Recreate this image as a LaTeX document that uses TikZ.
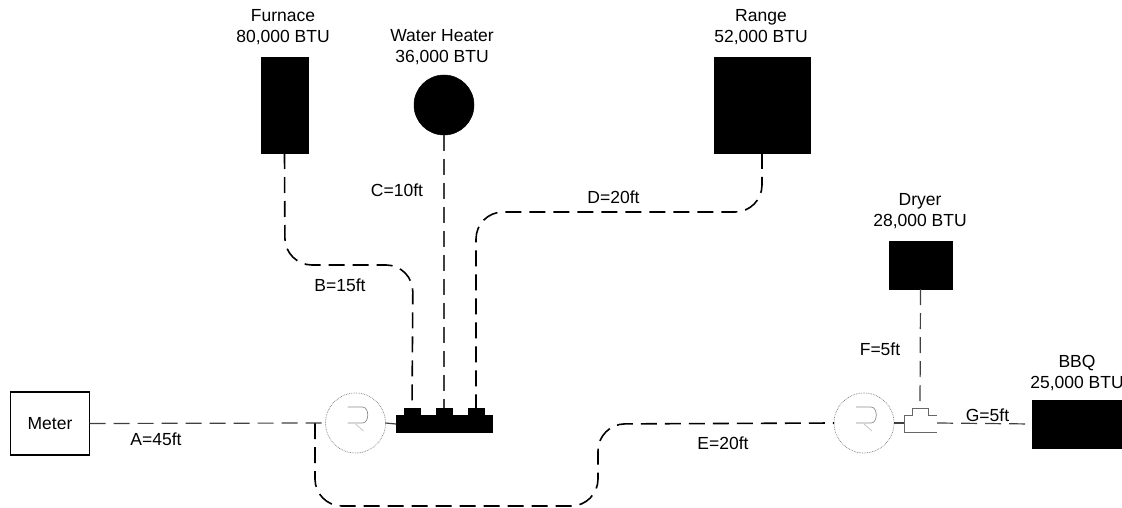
\documentclass[tikz,border=0pt]{standalone}
\usepackage{fontspec}
\setmainfont{Liberation Sans}
\usetikzlibrary{calc}
\tikzset{
  x=1pt,y=-1pt,
  lbl/.style={inner sep=0pt,outer sep=0pt,align=center,font=\fontsize{17.5}{21}\selectfont,text=black},
  solidbox/.style={fill=black,draw=black,inner sep=0pt,outer sep=0pt,line width=0.5pt},
  pipe/.style={line width=1.6pt,dash pattern=on 16pt off 8pt,rounded corners=27pt,black},
  thinpipe/.style={line width=1.2pt,dash pattern=on 16pt off 8pt,black!75},
  regcirc/.style={circle,draw=black!55,densely dotted,line width=0.7pt,minimum size=60pt,inner sep=0pt,outer sep=0pt},
  rglyph/.style={draw=black!45,line width=0.7pt},
  teeline/.style={draw=black!60,line width=0.9pt},
}
\begin{document}
\begin{tikzpicture}
\clip (0,0) rectangle (1122,508);
% equipment
\node[solidbox,minimum width=47pt,minimum height=96pt] (furnace) at (284.5,105) {};
\node[solidbox,circle,minimum size=60pt] (heater) at (444,105) {};
\node[solidbox,minimum width=96pt,minimum height=96pt] (range) at (762,105) {};
\node[solidbox,minimum width=63pt,minimum height=48pt] (dryer) at (920.5,265) {};
\node[solidbox,minimum width=96pt,minimum height=48pt] (bbq) at (1080,424) {};
\node[draw=black,line width=1.2pt,minimum width=79pt,minimum height=63pt,inner sep=0pt,outer sep=0pt,font=\fontsize{17.5}{21}\selectfont] (meter) at (50,423.5) {Meter};
% manifold
\node[solidbox,minimum width=96pt,minimum height=17pt] (manifold) at (444,424) {};
\node[solidbox,minimum width=16pt,minimum height=8pt] (m1) at (412,412) {};
\node[solidbox,minimum width=16pt,minimum height=8pt] (m2) at (444,412) {};
\node[solidbox,minimum width=16pt,minimum height=8pt] (m3) at (476,412) {};
% regulators
\node[regcirc] (reg1) at (355.5,423) {};
\node[regcirc] (reg2) at (864,423) {};
\foreach \r in {reg1,reg2}{
  \draw[rglyph] ($(\r)+(-8,-16)$) -- ($(\r)+(7,-16)$) .. controls ($(\r)+(14,-16)$) and ($(\r)+(14,0)$) .. ($(\r)+(7,0)$) -- ($(\r)+(-8,0)$);
  \draw[rglyph,black!25] ($(\r)+(0,1)$) -- ($(\r)+(8,8)$);
}
% tee
\coordinate (teeL) at (904,423);
\coordinate (teeR) at (937,423);
\coordinate (teeT) at (920,408);
\draw[teeline] (937,415) -- (928,415) -- (928,408) -- (912,408) -- (912,415) -- (904,415) -- (904,432) -- (937,432);
% pipes
\coordinate (bA) at (285,265);
\coordinate (bB) at (413,265);
\draw[pipe] (furnace.south) -- (bA) -- (bB) -- (m1.north);
\draw[thinpipe] (heater.south) -- (m2.north);
\coordinate (dA) at (762,212);
\coordinate (dB) at (476,212);
\draw[pipe] (range.south) -- (dA) -- (dB) -- (m3.north);
\coordinate (eS) at (315,423);
\coordinate (eA) at (315,506);
\coordinate (eB) at (598,506);
\coordinate (eC) at (598,424);
\draw[pipe] (eS) -- (eA) -- (eB) -- (eC) -- (reg2.west);
\draw[thinpipe] (meter.east) -- (reg1.west);
\draw[black!75,line width=1.2pt] (reg1.east) -- (manifold.west);
\draw[black!75,line width=1.2pt] (reg2.east) -- (teeL);
\draw[thinpipe] (dryer.south) -- (teeT);
\draw[thinpipe] (teeR) -- (bbq.west);
% labels
\node[lbl] (lf) at (283,27.5) {Furnace\\80,000 BTU};
\node[lbl] (lw) at (442,47.5) {Water Heater\\36,000 BTU};
\node[lbl] (lr) at (761,27.5) {Range\\52,000 BTU};
\node[lbl] (ld) at (920,211.5) {Dryer\\28,000 BTU};
\node[lbl] (lb) at (1077,373) {BBQ\\25,000 BTU};
\node[lbl] (la1) at (156,439) {A=45ft};
\node[lbl] (lb1) at (340,285) {B=15ft};
\node[lbl] (lc1) at (397,190) {C=10ft};
\node[lbl] (ld1) at (613.5,197) {D=20ft};
\node[lbl] (le1) at (723,443) {E=20ft};
\node[lbl] (lf1) at (880,349) {F=5ft};
\node[lbl] (lg1) at (987.5,415) {G=5ft};
\end{tikzpicture}
\end{document}
